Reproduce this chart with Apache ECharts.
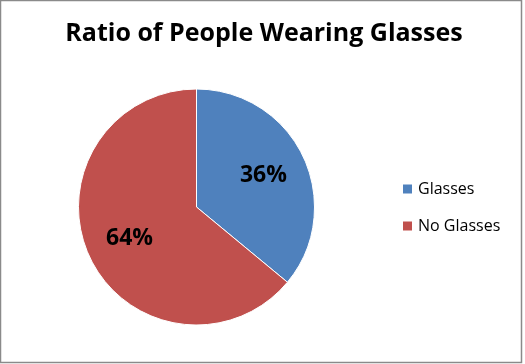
<!DOCTYPE html>
<html><head><meta charset="utf-8">
<script src="https://cdn.jsdelivr.net/npm/echarts@6/dist/echarts.min.js"></script>
<style>html,body{margin:0;padding:0;background:#fff}#c{width:525px;height:364px}</style>
</head><body><div id="c"></div>
<script>
const categories = ['Glasses', 'No Glasses'];
const values = [36, 64];
const colors = ['#4F81BD', '#C0504D'];
const titleText = 'Ratio of People Wearing Glasses';

const chart = echarts.init(document.getElementById('c'), null, {renderer: 'canvas'});
const data = categories.map((n, i) => ({name: n, value: values[i], itemStyle: {color: colors[i]}}));
chart.setOption({
  animation: false,
  backgroundColor: '#fff',
  title: {
    text: titleText, left: 259, top: 16, textAlign: 'center',
    textStyle: {fontFamily: 'Open Sans', fontWeight: 'bold', fontSize: 25, color: '#000'}
  },
  legend: {
    orient: 'vertical', left: 396, top: 176, itemWidth: 11, itemHeight: 11, itemGap: 21,
    icon: 'rect', data: categories,
    textStyle: {fontFamily: 'Open Sans', fontSize: 16, lineHeight: 16, color: '#000', padding: [0, 0, 0, 0]}
  },
  graphic: [{type: 'rect', shape: {x: 0.5, y: 0.5, width: 521, height: 362}, style: {fill: 'none', stroke: '#8a8a8a', lineWidth: 1.5}}],
  series: [{
    type: 'pie', center: [196.5, 207], radius: 118, startAngle: 90, clockwise: true,
    label: {show: false}, labelLine: {show: false},
    itemStyle: {borderColor: '#fff', borderWidth: 1},
    data: data
  }, {
    type: 'pie', center: [196.5, 207], radius: [24, 118], startAngle: 90, clockwise: true,
    silent: true, legendHoverLink: false,
    itemStyle: {color: 'transparent', borderWidth: 0},
    label: {show: true, position: 'inside', formatter: '{d}%', fontFamily: 'Open Sans', fontWeight: 'bold', fontSize: 23, color: '#000'},
    labelLine: {show: false},
    data: categories.map((n, i) => ({name: n, value: values[i]}))
  }]
});
</script></body></html>
